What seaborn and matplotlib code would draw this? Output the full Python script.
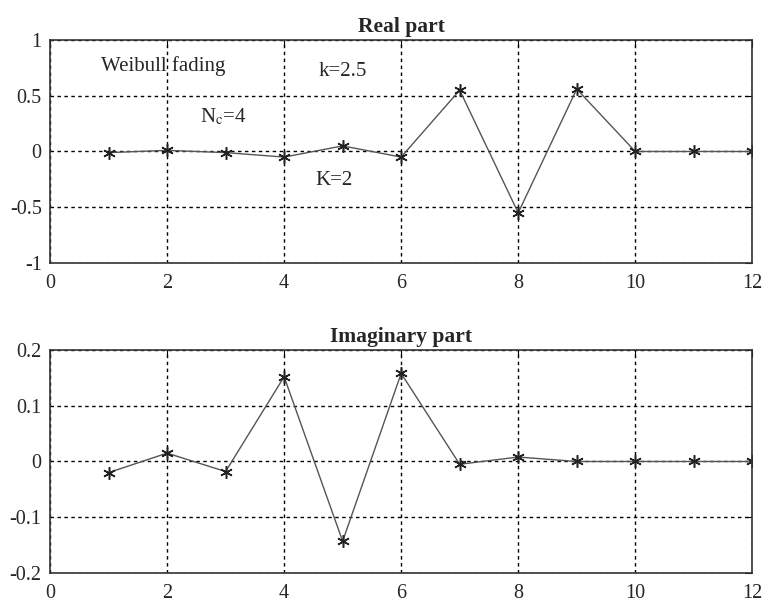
import matplotlib
matplotlib.use("Agg")
import matplotlib.pyplot as plt
import seaborn as sns
import pandas as pd

# data
n = list(range(1, 13))
real_part = [-0.01, 0.01, -0.01, -0.05, 0.05, -0.05, 0.55, -0.55, 0.56, 0.0, 0.0, 0.0]
imag_part = [-0.02, 0.015, -0.018, 0.152, -0.143, 0.158, -0.005, 0.008, 0.0, 0.0, 0.0, 0.0]

sns.set_style("white")
plt.rcParams['font.family'] = ['Liberation Serif', 'DejaVu Serif']
plt.rcParams['mathtext.fontset'] = 'stix'

df = pd.DataFrame({"n": n, "real": real_part, "imag": imag_part})

fig = plt.figure(figsize=(7.65, 6.05), dpi=100)
ax1 = fig.add_axes([0.0654, 0.5653, 0.918, 0.3686])
ax2 = fig.add_axes([0.0654, 0.0529, 0.918, 0.3686])

for ax, col, ylim, yticks, title in [
    (ax1, "real", (-1, 1), [-1, -0.5, 0, 0.5, 1], "Real part"),
    (ax2, "imag", (-0.2, 0.2), [-0.2, -0.1, 0, 0.1, 0.2], "Imaginary part"),
]:
    sns.lineplot(data=df, x="n", y=col, ax=ax, color="#555555", linewidth=1.0,
                 marker=(6, 2, 0), markersize=9, markeredgewidth=1.1,
                 markeredgecolor="#222222", markerfacecolor="#222222")
    ax.set_xlim(0, 12)
    ax.set_ylim(*ylim)
    ax.set_xticks(range(0, 13, 2))
    ax.set_yticks(yticks)
    ax.set_yticklabels([f"{t:g}" for t in yticks])
    ax.grid(True, color="black", linestyle=(0, (2.5, 2.5)), linewidth=1.0)
    ax.set_xlabel("")
    ax.set_ylabel("")
    ax.set_title(title, fontsize=15.5, fontweight="bold", pad=6)
    ax.tick_params(direction="in", length=5, labelsize=14.5, top=True, right=True,
                   color="black")
    ax.tick_params(axis="x", pad=8)
    ax.tick_params(axis="y", pad=6)
    for s in ax.spines.values():
        s.set_color("#333333")
        s.set_linewidth(1.2)

ax1.text(1.94, 0.77, "Weibull fading", ha="center", va="center", fontsize=15)
ax1.text(5.0, 0.72, "k=2.5", ha="center", va="center", fontsize=15)
ax1.text(2.96, 0.31, r"N$_{\mathrm{c}}$=4", ha="center", va="center", fontsize=15)
ax1.text(4.86, -0.26, "K=2", ha="center", va="center", fontsize=15)

fig.savefig("out.png", dpi=100)
